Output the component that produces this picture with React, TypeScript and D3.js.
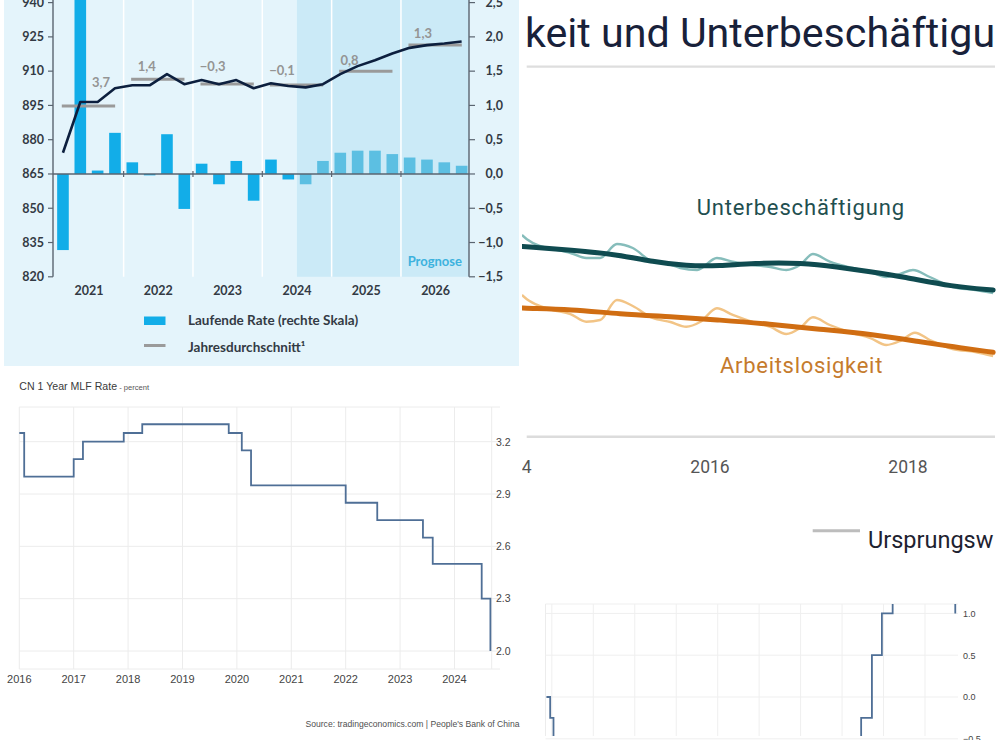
import React from 'react';
import * as d3 from 'd3';

// ---------- Panel A: quarterly index + running rate ----------
const yearsA = ['2021', '2022', '2023', '2024', '2025', '2026'];
const quartersA = [
  '2021Q1', '2021Q2', '2021Q3', '2021Q4', '2022Q1', '2022Q2', '2022Q3', '2022Q4',
  '2023Q1', '2023Q2', '2023Q3', '2023Q4', '2024Q1', '2024Q2', '2024Q3', '2024Q4',
  '2025Q1', '2025Q2', '2025Q3', '2025Q4', '2026Q1', '2026Q2', '2026Q3', '2026Q4',
];
const laufendeRate = [
  -1.11, 2.8, 0.05, 0.6, 0.17, -0.02, 0.58, -0.51,
  0.15, -0.15, 0.19, -0.39, 0.21, -0.08, -0.15, 0.19,
  0.31, 0.34, 0.34, 0.29, 0.24, 0.21, 0.17, 0.12,
];
const indexLevel = [
  874.3, 896.5, 896.5, 902.5, 903.8, 903.8, 908.7, 904.3,
  906.1, 904.3, 906.1, 902.5, 904.7, 903.5, 902.9, 904.3,
  908.7, 912.2, 914.8, 917.7, 920.2, 921.4, 922.1, 923.0,
];
const jahresdurchschnitt = [894.7, 906.5, 904.4, 903.9, 910.0, 921.4];
const jahresLabels = ['3,7', '1,4', '−0,3', '−0,1', '0,8', '1,3'];
const leftTicksA = [820, 835, 850, 865, 880, 895, 910, 925, 940];
const rightTicksA = [-1.5, -1.0, -0.5, 0.0, 0.5, 1.0, 1.5, 2.0, 2.5];
const forecastFrom = '2024Q3';
// annotation layout (offsets of the value labels from their year centre / line)
const labelDx = [12, -11.6, -15, -15, -16.7, -12.7];
const labelDy = [19, 8, 13, 10, 6, 7];

// ---------- Panel B: Arbeitslosigkeit / Unterbeschäftigung ----------
const ticksB = [2014, 2016, 2018];
const ubTrend: [number, number][] = [
  [2014.1, 3.96], [2014.15, 3.955], [2014.59, 3.9], [2015.09, 3.82], [2015.42, 3.705],
  [2015.76, 3.633], [2016.1, 3.633], [2016.43, 3.683], [2016.94, 3.688], [2017.28, 3.62],
  [2017.62, 3.538], [2017.95, 3.455], [2018.45, 3.288], [2018.86, 3.233],
];
const ubRaw: [number, number][] = [
  [2014.1, 4.15], [2014.15, 4.08], [2014.28, 3.967], [2014.41, 3.917], [2014.59, 3.85],
  [2014.75, 3.767], [2014.89, 3.767], [2015.06, 4.0], [2015.22, 3.933], [2015.42, 3.705],
  [2015.58, 3.667], [2015.7, 3.6], [2015.87, 3.567], [2016.07, 3.767], [2016.23, 3.705],
  [2016.43, 3.65], [2016.61, 3.617], [2016.77, 3.567], [2016.91, 3.65], [2017.04, 3.833],
  [2017.21, 3.705], [2017.44, 3.6], [2017.62, 3.533], [2017.78, 3.45], [2017.92, 3.5],
  [2018.05, 3.567], [2018.22, 3.45], [2018.45, 3.283], [2018.68, 3.233], [2018.86, 3.183],
];
const alTrend: [number, number][] = [
  [2014.1, 2.935], [2014.15, 2.928], [2014.59, 2.912], [2015.09, 2.833], [2015.6, 2.788],
  [2016.1, 2.733], [2016.6, 2.667], [2017.11, 2.578], [2017.62, 2.5], [2018.12, 2.372],
  [2018.45, 2.288], [2018.86, 2.195],
];
const alRaw: [number, number][] = [
  [2014.1, 3.15], [2014.15, 3.08], [2014.28, 2.967], [2014.41, 2.9], [2014.59, 2.833],
  [2014.75, 2.705], [2014.89, 2.733], [2015.06, 3.067], [2015.22, 2.967], [2015.42, 2.767],
  [2015.6, 2.7], [2015.76, 2.622], [2015.9, 2.7], [2016.07, 2.928], [2016.23, 2.817],
  [2016.43, 2.7], [2016.61, 2.617], [2016.77, 2.5], [2016.91, 2.6], [2017.04, 2.778],
  [2017.21, 2.65], [2017.44, 2.517], [2017.62, 2.433], [2017.78, 2.317], [2017.92, 2.383],
  [2018.07, 2.522], [2018.22, 2.4], [2018.45, 2.25], [2018.68, 2.2], [2018.86, 2.133],
];

// ---------- Panel C: CN 1 Year MLF Rate ----------
const mlfDates = [2016.0, 2016.09, 2017.0, 2017.17, 2017.92, 2018.26, 2019.85, 2020.09, 2020.26, 2022.0, 2022.58, 2023.42, 2023.6, 2024.5, 2024.66];
const mlfRates = [3.25, 3.0, 3.1, 3.2, 3.25, 3.3, 3.25, 3.15, 2.95, 2.85, 2.75, 2.65, 2.5, 2.3, 2.0];
const yearTicksC = [2016, 2017, 2018, 2019, 2020, 2021, 2022, 2023, 2024];
const rateTicksC = [2.0, 2.3, 2.6, 2.9, 3.2];

// ---------- Panel D: policy rate fragment ----------
const snbDates = [2014.87, 2014.96, 2015.04, 2022.46, 2022.72, 2022.96, 2023.22, 2023.47, 2024.22, 2024.47, 2024.73];
const snbRates = [0.0, -0.25, -0.75, -0.25, 0.5, 1.0, 1.5, 1.75, 1.5, 1.25, 1.0];
const yearGridD = [2015, 2016, 2017, 2018, 2019, 2020, 2021, 2022, 2023, 2024];
const rateTicksD = [-0.5, 0.0, 0.5, 1.0];

const fmtDe = (v: number) => d3.format('.1f')(v).replace('.', ',').replace('-', '−');

function PanelA() {
  const fA = 'Lato, "Noto Sans", sans-serif';
  const x = d3.scaleBand<string>().domain(quartersA).range([54.3, 470.3]).paddingInner(0.33).paddingOuter(0.165);
  const yL = d3.scaleLinear().domain([820, 940]).range([276.8, 2.6]);
  const yR = d3.scaleLinear().domain([-1.5, 2.5]).range([276.8, 2.6]);
  const bw = x.bandwidth();
  const step = x.step();
  const r0 = x.range()[0];
  const yearStart = (i: number) => r0 + i * 4 * step;
  const cx = (q: string) => (x(q) as number) + bw / 2;
  const fIdx = quartersA.indexOf(forecastFrom);
  const fx = r0 + fIdx * step;
  const line = d3.line<number>().x((_, i) => cx(quartersA[i])).y((d) => yL(d));
  return (
    <g>
      <rect x={4} y={0} width={515} height={366} fill="#e4f4fb" />
      <rect x={fx} y={0} width={469 - fx} height={yR(-1.5)} fill="#cbeaf7" />
      {yearsA.slice(1).map((_, i) => (
        <line key={i} x1={yearStart(i + 1)} x2={yearStart(i + 1)} y1={0} y2={yR(-1.5)} stroke="#ffffff" strokeWidth={1.5} />
      ))}
      {laufendeRate.map((v, i) => (
        <rect key={i} x={x(quartersA[i])} width={bw} y={Math.min(yR(v), yR(0))} height={Math.abs(yR(v) - yR(0))}
          fill={i >= fIdx ? '#5cbfe2' : '#12ade8'} />
      ))}
      <line x1={53} x2={469} y1={yR(0)} y2={yR(0)} stroke="#5a6470" strokeWidth={1.3} />
      {yearsA.slice(1).map((_, i) => (
        <line key={i} x1={yearStart(i + 1)} x2={yearStart(i + 1)} y1={yR(0) - 3} y2={yR(0) + 3} stroke="#5a6470" strokeWidth={1.2} />
      ))}
      {jahresdurchschnitt.map((v, i) => (
        <line key={i} x1={yearStart(i) + 7.5} x2={yearStart(i + 1) - 8.5} y1={yL(v)} y2={yL(v)} stroke="#9a9a9a" strokeWidth={3} />
      ))}
      <path d={line(indexLevel) as string} fill="none" stroke="#0c1f3e" strokeWidth={2.6} strokeLinejoin="round" />
      {jahresLabels.map((t, i) => (
        <text key={i} x={yearStart(i) + 2 * step + labelDx[i]} y={yL(jahresdurchschnitt[i]) - labelDy[i]}
          textAnchor="middle" fontFamily={fA} fontWeight={700} fontSize={13} fill="#949494">{t}</text>
      ))}
      {/* left axis */}
      <line x1={53} x2={53} y1={0} y2={yL(820)} stroke="#5a6470" strokeWidth={1.4} />
      {leftTicksA.map((t) => (
        <g key={t}>
          <line x1={48} x2={53} y1={yL(t)} y2={yL(t)} stroke="#5a6470" strokeWidth={1.2} />
          <text x={44} y={yL(t) + 4.3} textAnchor="end" fontFamily={fA} fontWeight={700} fontSize={12.5} fill="#333a44">{t}</text>
        </g>
      ))}
      {/* right axis */}
      <line x1={469} x2={469} y1={0} y2={yR(-1.5)} stroke="#5a6470" strokeWidth={1.4} />
      {rightTicksA.map((t) => (
        <g key={t}>
          <line x1={469} x2={475} y1={yR(t)} y2={yR(t)} stroke="#5a6470" strokeWidth={1.2} />
          <text x={503} y={yR(t) + 4.3} textAnchor="end" fontFamily={fA} fontWeight={700} fontSize={12.5} fill="#333a44">{fmtDe(t)}</text>
        </g>
      ))}
      {yearsA.map((yr, i) => (
        <text key={yr} x={yearStart(i) + 2 * step} y={295} textAnchor="middle" fontFamily={fA} fontWeight={700} fontSize={12.5} fill="#333a44">{yr}</text>
      ))}
      <text x={462} y={265.5} textAnchor="end" fontFamily={fA} fontWeight={700} fontSize={13} fill="#3db2de">Prognose</text>
      {/* legend */}
      <rect x={144} y={316.5} width={21.5} height={8.5} fill="#12ade8" />
      <text x={188} y={325} fontFamily={fA} fontWeight={700} fontSize={13.5} fill="#333a44">Laufende Rate (rechte Skala)</text>
      <line x1={144} x2={165.5} y1={345.5} y2={345.5} stroke="#9a9a9a" strokeWidth={3} />
      <text x={188} y={351.5} fontFamily={fA} fontWeight={700} fontSize={13.5} fill="#333a44">Jahresdurchschnitt¹</text>
    </g>
  );
}

function PanelB() {
  const fB = 'Roboto, "Noto Sans", sans-serif';
  const x = d3.scaleLinear().domain([2014, 2019]).range([512, 1007]);
  const y = d3.scaleLinear().domain([2.0, 4.0]).range([364, 244]);
  const lineM = d3.line<[number, number]>().x((d) => x(d[0])).y((d) => y(d[1])).curve(d3.curveMonotoneX);
  const lineS = d3.line<[number, number]>().x((d) => x(d[0])).y((d) => y(d[1])).curve(d3.curveBasis);
  return (
    <g>
      <defs>
        <clipPath id="clipB"><rect x={522} y={0} width={475} height={600} /></clipPath>
      </defs>
      <g clipPath="url(#clipB)">
        <text x={525} y={46.7} fontFamily={fB} fontSize={41.2} fill="#18213a">keit und Unterbeschäftigu</text>
        <line x1={526.7} x2={995} y1={66.7} y2={66.7} stroke="#dedede" strokeWidth={2.2} />
        <path d={lineM(ubRaw) as string} fill="none" stroke="#86bdbb" strokeWidth={2.4} />
        <path d={lineM(alRaw) as string} fill="none" stroke="#f2c486" strokeWidth={2.4} />
        <path d={lineS(ubTrend) as string} fill="none" stroke="#0f4b50" strokeWidth={5} strokeLinecap="round" />
        <path d={lineS(alTrend) as string} fill="none" stroke="#d06d12" strokeWidth={5} strokeLinecap="round" />
        <text x={696.7} y={214.5} fontFamily={fB} fontSize={22} letterSpacing={0.85} fill="#1f4f50">Unterbeschäftigung</text>
        <text x={720} y={372.7} fontFamily={fB} fontSize={22} letterSpacing={0.7} fill="#c57b2d">Arbeitslosigkeit</text>
        <line x1={526.7} x2={995} y1={436.7} y2={436.7} stroke="#dcdcdc" strokeWidth={2.5} />
        {ticksB.map((t) => (
          <text key={t} x={x(t)} y={473} textAnchor="middle" fontFamily={fB} fontSize={17.5} fill="#555555">{t}</text>
        ))}
        <line x1={812.7} x2={860} y1={530.7} y2={530.7} stroke="#bdbdbd" strokeWidth={3} />
        <text x={868} y={548.3} fontFamily={fB} fontSize={23.5} fill="#1e2230">Ursprungsw</text>
      </g>
    </g>
  );
}

function PanelC() {
  const fC = '"Liberation Sans", Arial, sans-serif';
  const x = d3.scaleLinear().domain([2016, 2024]).range([19.3, 454.5]);
  const y = d3.scaleLinear().domain([2.0, 3.2]).range([651, 441.7]);
  const pts = mlfDates.map((d, i) => [d, mlfRates[i]] as [number, number]);
  const step = d3.line<[number, number]>().x((d) => x(d[0])).y((d) => y(d[1])).curve(d3.curveStepAfter);
  const top = 407, bottom = 669, left = 19.3, right = 491.7;
  return (
    <g>
      <text x={19.3} y={390} fontFamily={fC} fontSize={10.6} fill="#3a3a3a">CN 1 Year MLF Rate<tspan fontSize={7.6} fill="#555"> - percent</tspan></text>
      <line x1={left} x2={500} y1={top} y2={top} stroke="#ececec" strokeWidth={1} />
      <line x1={left} x2={500} y1={bottom} y2={bottom} stroke="#ececec" strokeWidth={1} />
      {rateTicksC.map((t) => (
        <g key={t}>
          <line x1={left} x2={500} y1={y(t)} y2={y(t)} stroke="#ececec" strokeWidth={1} />
          <text x={496} y={y(t) + 3.8} fontFamily={fC} fontSize={10.5} fill="#444">{d3.format('.1f')(t)}</text>
        </g>
      ))}
      {yearTicksC.map((t) => (
        <g key={t}>
          <line x1={x(t)} x2={x(t)} y1={top} y2={bottom} stroke="#ececec" strokeWidth={1} />
          <text x={x(t)} y={682.7} textAnchor="middle" fontFamily={fC} fontSize={11} fill="#444">{t}</text>
        </g>
      ))}
      <line x1={right} x2={right} y1={top} y2={bottom} stroke="#ececec" strokeWidth={1} />
      <path d={step(pts) as string} fill="none" stroke="#4f6f96" strokeWidth={1.8} />
      <text x={519.5} y={727} textAnchor="end" fontFamily={fC} fontSize={8.6} fill="#505050">Source: tradingeconomics.com | People's Bank of China</text>
    </g>
  );
}

function PanelD() {
  const fC = '"Liberation Sans", Arial, sans-serif';
  const x = d3.scaleLinear().domain([2016, 2024]).range([593.3, 925]);
  const y = d3.scaleLinear().domain([0, 1]).range([697, 613.4]);
  const pts = snbDates.map((d, i) => [d, snbRates[i]] as [number, number]);
  const step = d3.line<[number, number]>().x((d) => x(d[0])).y((d) => y(d[1])).curve(d3.curveStepAfter);
  const top = 604, bottom = 736, left = 545.5, right = 958;
  return (
    <g>
      <defs>
        <clipPath id="clipD"><rect x={left} y={top} width={right - left} height={bottom - top} /></clipPath>
      </defs>
      <line x1={left} x2={right} y1={top} y2={top} stroke="#efefef" strokeWidth={1} />
      <line x1={left} x2={left} y1={top} y2={bottom} stroke="#ececec" strokeWidth={1} />
      {rateTicksD.map((t) => (
        <g key={t}>
          <line x1={left} x2={right} y1={y(t)} y2={y(t)} stroke="#efefef" strokeWidth={1} />
          <text x={963} y={y(t) + 3.3} fontFamily={fC} fontSize={9} fill="#444">{d3.format('.1f')(t)}</text>
        </g>
      ))}
      {yearGridD.map((t) => (
        <line key={t} x1={x(t)} x2={x(t)} y1={top} y2={bottom} stroke="#efefef" strokeWidth={1} />
      ))}
      <path d={step(pts) as string} fill="none" stroke="#4f6f96" strokeWidth={1.8} clipPath="url(#clipD)" />
    </g>
  );
}

export default function App() {
  return (
    <svg width={1000} height={740} viewBox="0 0 1000 740" style={{ position: 'absolute', left: 0, top: 0, background: '#ffffff' }}>
      <rect x={0} y={0} width={1000} height={740} fill="#ffffff" />
      <PanelA />
      <PanelB />
      <PanelC />
      <PanelD />
    </svg>
  );
}
